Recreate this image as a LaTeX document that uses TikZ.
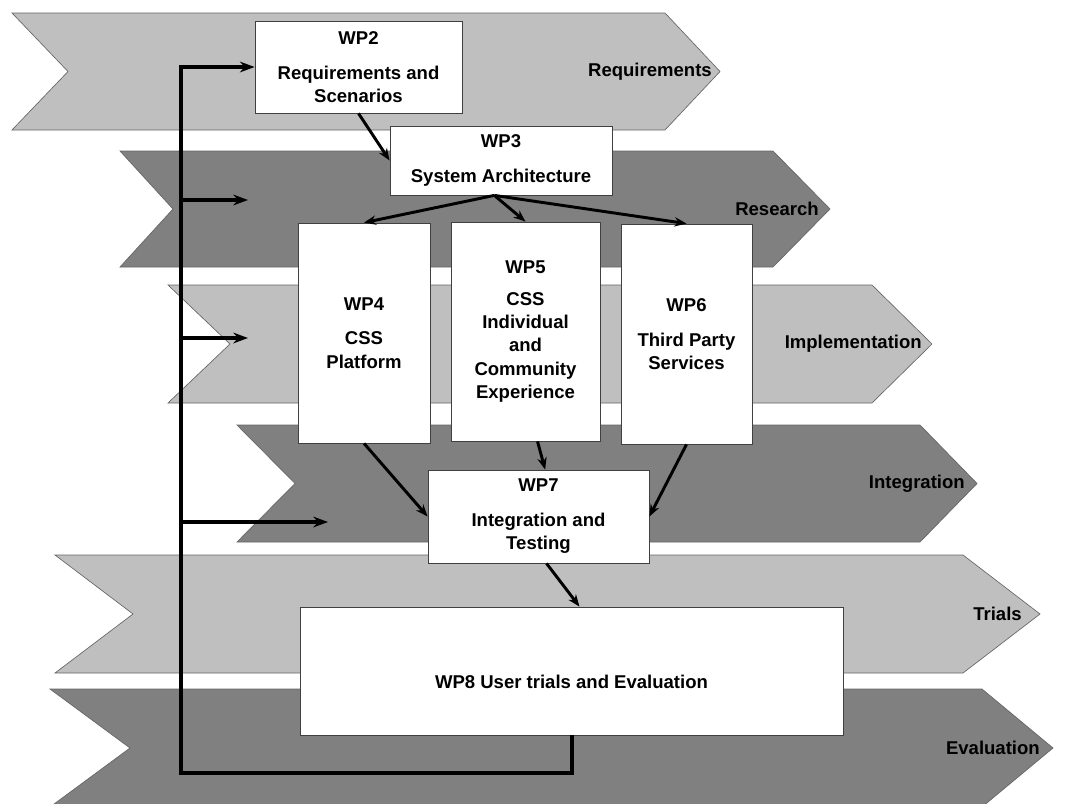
\documentclass[tikz,border=0pt]{standalone}
\usepackage{fontspec}
\setmainfont{Liberation Sans}
\usetikzlibrary{arrows.meta}
\definecolor{bandlight}{gray}{0.75}
\definecolor{banddark}{gray}{0.5}

\begin{document}
\begin{tikzpicture}[x=0.75pt, y=-0.75pt, >={Stealth[length=11pt,width=8pt]},
    wp/.style={draw=black!75, line width=0.6pt, fill=white, align=center, inner sep=0pt,
        font=\fontsize{13.9}{17.5}\selectfont\bfseries},
    band/.style={draw=black!60, line width=0.5pt},
    lane/.style={font=\fontsize{13.9}{17}\selectfont\bfseries, anchor=east, inner sep=0pt},
    link/.style={->, line width=2.2pt, >={Stealth[length=9pt,width=7pt]}},
    feed/.style={->, line width=3pt}]
    \clip (0,0) rectangle (1074,803);
    \fill[white] (0,0) rectangle (1074,803);

    % Phases
    \foreach \xa/\xb/\xc/\xd/\ya/\yb/\col/\lbl/\lx in {
        12/68/665/720/13/130/bandlight/Requirements/712,
        120/173/773/830/151/267/banddark/Research/819,
        168/230/872/932/285/403/bandlight/Implementation/922,
        237/295/920/977/425/542/banddark/Integration/965,
        55/133/963/1040/555/673/bandlight/Trials/1022,
        50/130/982/1053/689/807/banddark/Evaluation/1040} {
        \draw[band, fill=\col] (\xa,\ya) -- (\xc,\ya) -- (\xd,{(\ya+\yb)/2}) -- (\xc,\yb)
            -- (\xa,\yb) -- (\xb,{(\ya+\yb)/2}) -- cycle;
        \node[lane] at (\lx,{(\ya+\yb)/2}) {\lbl};
    }

    % Work packages
    \node[wp, minimum width=155.25pt, minimum height=69pt] (wp2) at (358.5,67)
        {WP2\\[8.5pt]Requirements and\\Scenarios};
    \node[wp, minimum width=166.5pt, minimum height=51.75pt] (wp3) at (501,160.5)
        {WP3\\[8.5pt]System Architecture};
    \node[wp, minimum width=99pt, minimum height=165pt] (wp4) at (364,333)
        {WP4\\[8.5pt]CSS\\Platform};
    \node[wp, minimum width=111.75pt, minimum height=164.25pt] (wp5) at (525.5,331.5)
        {WP5\\[6.5pt]CSS\\Individual\\and\\Community\\Experience};
    \node[wp, minimum width=98.25pt, minimum height=165pt] (wp6) at (686.5,334)
        {WP6\\[8.5pt]Third Party\\Services};
    \node[wp, minimum width=165.75pt, minimum height=69.75pt] (wp7) at (538.5,516.5)
        {WP7\\[8.5pt]Integration and\\Testing};
    \node[wp, minimum width=407.25pt, minimum height=96pt] (wp8) at (571.5,671)
        {\raisebox{-13pt}[0pt][0pt]{WP8 User trials and Evaluation}};

    % Dependencies
    \draw[link] (wp2.south) -- (wp3.west);
    \draw[link] ([xshift=-5pt]wp3.south) -- (wp4.north);
    \draw[link] ([xshift=-5pt]wp3.south) -- (wp5.north);
    \draw[link] ([xshift=-5pt]wp3.south) -- (wp6.north);
    \draw[link] (wp4.south) -- (wp7.west);
    \draw[link] ([xshift=9pt]wp5.south) -- ([xshift=5pt]wp7.north);
    \draw[link] (wp6.south) -- (wp7.east);
    \draw[link] ([xshift=6pt]wp7.south) -- ([xshift=6pt]wp8.north);

    % Feedback
    \coordinate (fbl) at (181,773);
    \draw[feed] (wp8.south) |- (fbl) |- (wp2.west);
    \foreach \i/\y/\xe in {1/200/248, 2/338/248, 3/522/328} {
        \coordinate (sp\i) at (181,\y);
        \coordinate (ar\i) at (\xe,\y);
        \draw[feed] (sp\i) -- (ar\i);
    }
\end{tikzpicture}
\end{document}
